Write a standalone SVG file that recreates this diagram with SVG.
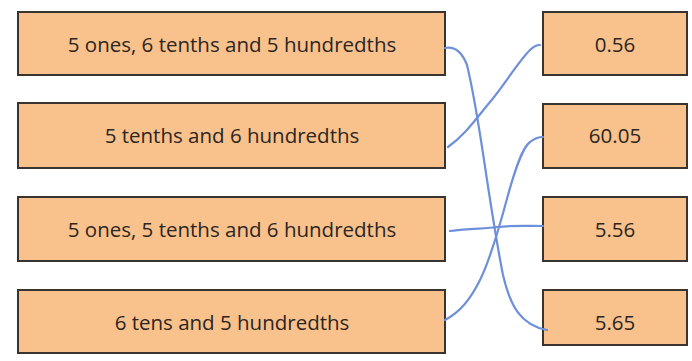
<svg xmlns="http://www.w3.org/2000/svg" width="692" height="361" viewBox="0 0 692 361">
<style>
.box{fill:#F9C18C;stroke:#3a3430;stroke-width:2}
.t{font-family:"Open Sans","DejaVu Sans",sans-serif;font-size:20.5px;font-weight:500;fill:#2b2622;text-anchor:middle;dominant-baseline:central}
.c{fill:none;stroke:#6E8FD9;stroke-width:2.2;stroke-linecap:round;stroke-linejoin:round}
</style>
<rect width="692" height="361" fill="#ffffff"/>
<g id="l1"><rect class="box" x="18" y="12" width="427" height="63"/><text class="t" x="232" y="44">5 ones, 6 tenths and 5 hundredths</text></g>
<g id="l2"><rect class="box" x="18" y="103" width="427" height="65"/><text class="t" x="232" y="135">5 tenths and 6 hundredths</text></g>
<g id="l3"><rect class="box" x="18" y="197" width="427" height="64"/><text class="t" x="232" y="229">5 ones, 5 tenths and 6 hundredths</text></g>
<g id="l4"><rect class="box" x="18" y="290" width="427" height="63"/><text class="t" x="232" y="322">6 tens and 5 hundredths</text></g>
<g id="r1"><rect class="box" x="543" y="12" width="144" height="63"/><text class="t" x="615" y="44">0.56</text></g>
<g id="r2"><rect class="box" x="543" y="104" width="144" height="64"/><text class="t" x="615" y="135">60.05</text></g>
<g id="r3"><rect class="box" x="543" y="197" width="144" height="64"/><text class="t" x="615" y="229">5.56</text></g>
<g id="r4"><rect class="box" x="543" y="290" width="144" height="55"/><text class="t" x="615" y="322">5.65</text></g>
<g id="connectors">
<path class="c" d="M445,48 C455,46 462,52 467,65 C473,90 478,120 484,160 C490,200 496,240 503,275 C510,305 520,325 547,330"/>
<path class="c" d="M448,147 C465,135 475,120 490,102 C505,84 518,62 530,50 C534,46 537,45 540,45"/>
<path class="c" d="M450,231 C470,228 485,229 497,227 C515,225 530,226 543,226"/>
<path class="c" d="M445,320 C460,312 470,300 480,280 C490,260 500,225 508,195 C515,170 522,148 530,142 C535,138 540,137 543,137"/>
</g>
</svg>
